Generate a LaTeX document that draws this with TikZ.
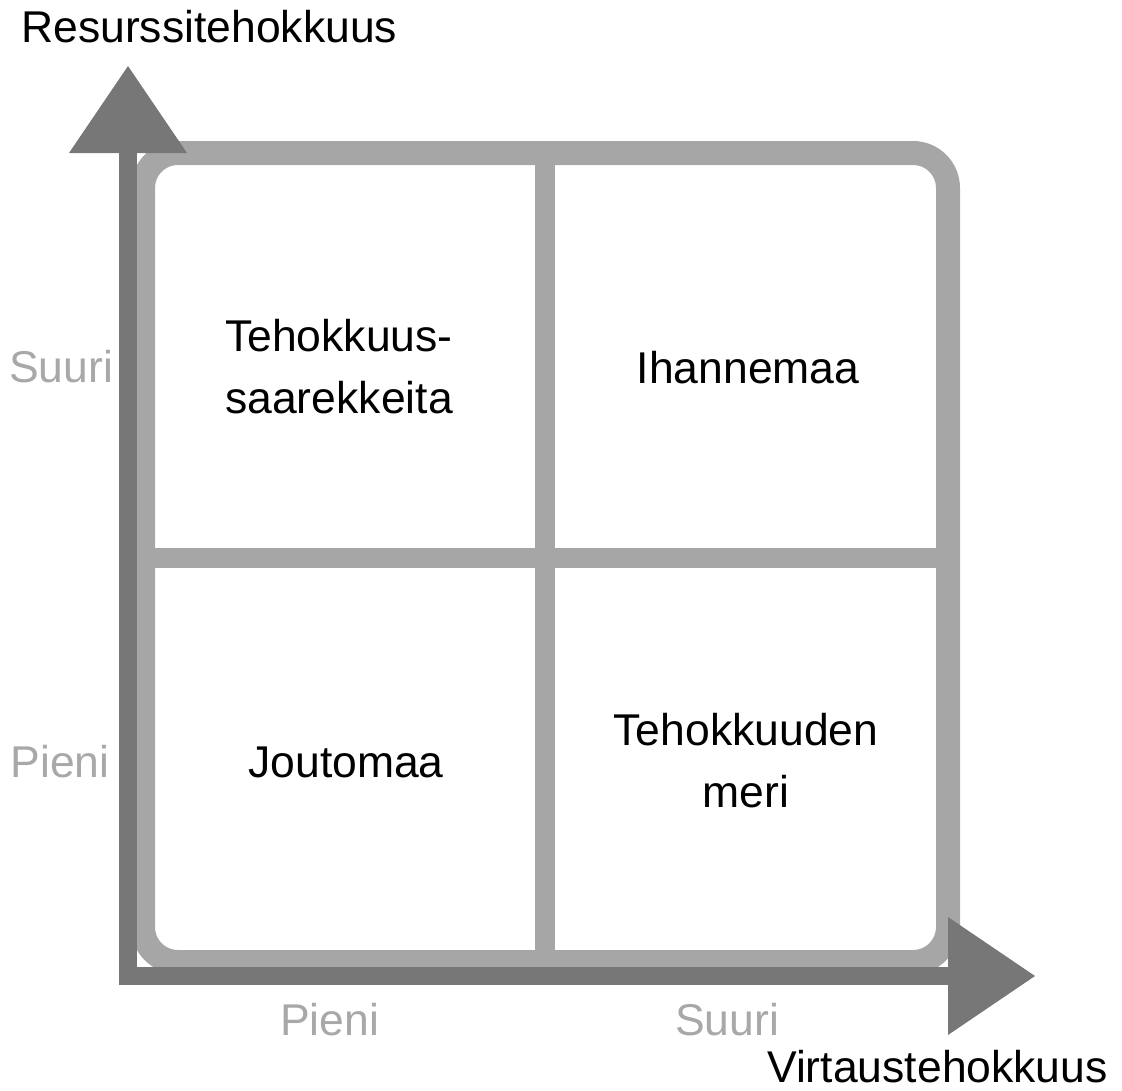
\documentclass[tikz,border=0pt]{standalone}
\usepackage{fontspec}
\setmainfont{Liberation Sans}
\begin{document}
\begin{tikzpicture}[x=1pt,y=-1pt,
  axisline/.style={draw=axisgray,line width=18pt,line join=miter,line cap=butt},
  axishead/.style={fill=axisgray},
  frameline/.style={draw=framegray,line width=24pt,rounded corners=35pt},
  divider/.style={draw=framegray,line width=20pt},
  celltext/.style={font=\fontsize{44.5}{62}\selectfont,align=center,inner sep=0pt,text=black},
  axislabel/.style={font=\fontsize{44.5}{52}\selectfont,inner sep=0pt,text=black},
  levellabel/.style={font=\fontsize{44.5}{52}\selectfont,inner sep=0pt,text=labelgray}]
\definecolor{axisgray}{HTML}{777777}
\definecolor{framegray}{HTML}{A6A6A6}
\definecolor{labelgray}{HTML}{A8A8A8}
\useasboundingbox (0,0) rectangle (1122,1090);
% quadrant frame
\draw[frameline] (143,153) rectangle (948,962);
\draw[divider] (544.5,153) -- (544.5,962);
\draw[divider] (143,558) -- (948,558);
% axes
\coordinate (O) at (128,976);
\coordinate (Ybase) at (128,153);
\coordinate (Xbase) at (948,976);
\coordinate (Ytip) at (128,66);
\coordinate (Xtip) at (1035,976);
\draw[axisline] (Ybase) -- (O) -- (Xbase);
\fill[axishead] (69,153) -- (Ytip) -- (187,153) -- cycle;
\fill[axishead] (948,917) -- (Xtip) -- (948,1035) -- cycle;
% axis titles
\node[axislabel,anchor=base west] (ytitle) at (21,42) {Resurssitehokkuus};
\node[axislabel,anchor=base west] (xtitle) at (767,1082) {Virtaustehokkuus};
% level labels
\node[levellabel,anchor=base] (yhigh) at (61,382) {Suuri};
\node[levellabel,anchor=base] (ylow) at (60,777) {Pieni};
\node[levellabel,anchor=base] (xlow) at (329.5,1035) {Pieni};
\node[levellabel,anchor=base] (xhigh) at (727,1035) {Suuri};
% quadrant texts
\node[celltext,anchor=base] (q1) at (339,413) {Tehokkuus-\\saarekkeita};
\node[celltext,anchor=base] (q2) at (748,383) {Ihannemaa};
\node[celltext,anchor=base] (q3) at (346,777) {Joutomaa};
\node[celltext,anchor=base] (q4) at (746,807) {Tehokkuuden\\meri};
\end{tikzpicture}
\end{document}
